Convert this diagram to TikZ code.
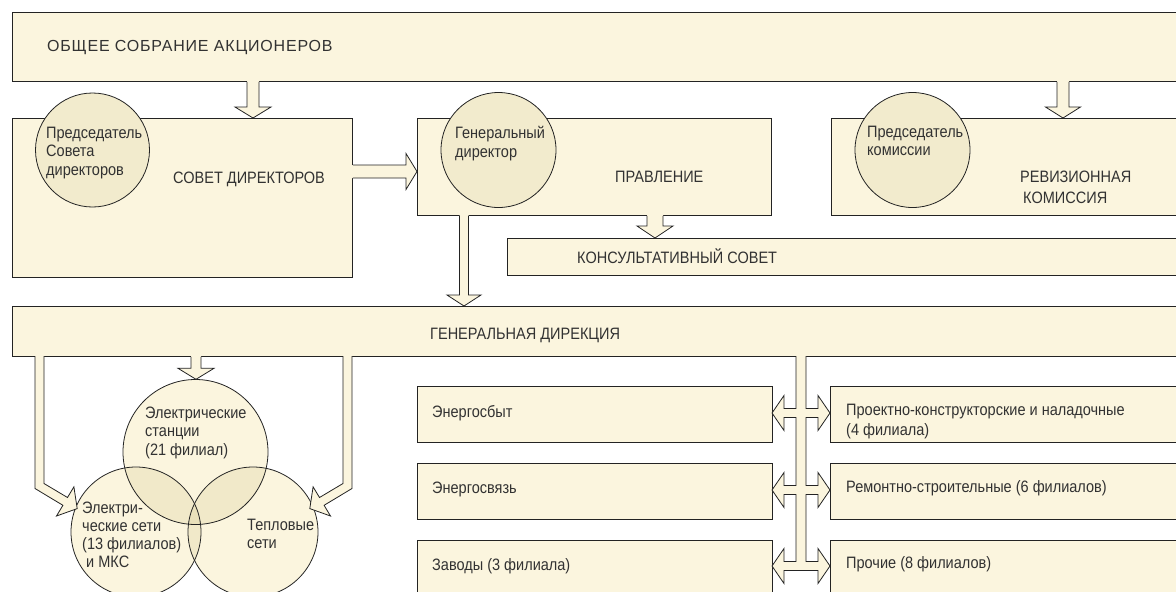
\documentclass[tikz,border=0pt]{standalone}
\usepackage{fontspec}
\setmainfont{Liberation Sans}[FakeStretch=0.88]
\newfontfamily\titlefont{Liberation Sans}[LetterSpace=5]
\usetikzlibrary{calc}
\definecolor{boxfill}{RGB}{251,245,222}
\definecolor{circfill}{RGB}{242,235,205}
\definecolor{lensfill}{RGB}{241,233,201}
\definecolor{triplefill}{RGB}{233,224,186}
\definecolor{linec}{RGB}{35,35,35}
\definecolor{textc}{RGB}{50,50,50}
\tikzset{
 box/.style={draw=linec, fill=boxfill, line width=0.8pt, rectangle, inner sep=0pt, anchor=north west},
 officer/.style={circle, draw=linec, fill=circfill, line width=0.8pt, inner sep=0pt, minimum size=#1},
 vennfill/.style={circle, fill=boxfill, inner sep=0pt, minimum size=#1},
 vennline/.style={draw=linec, line width=0.8pt},
 txt/.style={inner sep=0pt, text=textc, anchor=base west, align=left},
 afill/.style={fill=boxfill},
 aline/.style={draw=linec, line width=0.8pt, line join=miter},
}
% block arrow downwards: #1 x, #2 from node, #3 to node, #4 shaft hw, #5 head hw, #6 head length
\newcommand\blockdown[6]{%
 \fill[afill] let \p1=(#2.south), \p2=(#3.north) in
   ({#1pt-#4pt},{\y1+1.5pt}) -- ({#1pt-#4pt},{\y2+#6pt}) -- ({#1pt-#5pt},{\y2+#6pt}) -- (#1pt,\y2)
   -- ({#1pt+#5pt},{\y2+#6pt}) -- ({#1pt+#4pt},{\y2+#6pt}) -- ({#1pt+#4pt},{\y1+1.5pt}) -- cycle;
 \draw[aline] let \p1=(#2.south), \p2=(#3.north) in
   ({#1pt-#4pt},\y1) -- ({#1pt-#4pt},{\y2+#6pt}) -- ({#1pt-#5pt},{\y2+#6pt}) -- (#1pt,\y2)
   -- ({#1pt+#5pt},{\y2+#6pt}) -- ({#1pt+#4pt},{\y2+#6pt}) -- ({#1pt+#4pt},\y1);
}
% block arrow to the right: #1 y (pixels, downward), #2 from, #3 to, #4 shaft hw, #5 head hw, #6 head length
\newcommand\blockright[6]{%
 \fill[afill] let \p1=(#2.east), \p2=(#3.west) in
   ({\x1-1.5pt},{-#1pt+#4pt}) -- ({\x2-#6pt},{-#1pt+#4pt}) -- ({\x2-#6pt},{-#1pt+#5pt}) -- (\x2,-#1pt)
   -- ({\x2-#6pt},{-#1pt-#5pt}) -- ({\x2-#6pt},{-#1pt-#4pt}) -- ({\x1-1.5pt},{-#1pt-#4pt}) -- cycle;
 \draw[aline] let \p1=(#2.east), \p2=(#3.west) in
   (\x1,{-#1pt+#4pt}) -- ({\x2-#6pt},{-#1pt+#4pt}) -- ({\x2-#6pt},{-#1pt+#5pt}) -- (\x2,-#1pt)
   -- ({\x2-#6pt},{-#1pt-#5pt}) -- ({\x2-#6pt},{-#1pt-#4pt}) -- (\x1,{-#1pt-#4pt});
}
\begin{document}
\begin{tikzpicture}[x=1pt,y=-1pt,font=\fontsize{16.5}{19}\selectfont]
\useasboundingbox (0,0) rectangle (1176,592);
\clip (0,0) rectangle (1176,592);

% boxes
\node[box, minimum width=1178pt, minimum height=69pt] (top) at (12,12) {};
\node[box, minimum width=340pt, minimum height=159pt] (sovet) at (12,118) {};
\node[box, minimum width=354pt, minimum height=97pt] (prav) at (417,118) {};
\node[box, minimum width=359pt, minimum height=97pt] (rev) at (831,118) {};
\node[box, minimum width=683pt, minimum height=37pt] (kons) at (507,238) {};
\node[box, minimum width=1178pt, minimum height=50pt] (gendir) at (12,306) {};
\node[box, minimum width=355pt, minimum height=56pt] (esb) at (417,386) {};
\node[box, minimum width=355pt, minimum height=56pt] (esv) at (417,463) {};
\node[box, minimum width=355pt, minimum height=60pt] (zav) at (417,540) {};
\node[box, minimum width=360pt, minimum height=56pt] (proj) at (830,386) {};
\node[box, minimum width=360pt, minimum height=56pt] (rem) at (830,463) {};
\node[box, minimum width=360pt, minimum height=60pt] (proch) at (830,540) {};

% officer circles
\node[officer=114pt] (ch1) at (92.5,150) {};
\node[officer=115pt] (ch2) at (498.5,150) {};
\node[officer=115pt] (ch3) at (912.5,150) {};

% venn circles
\node[vennfill=145pt] (vs) at (195.5,452) {};
\node[vennfill=130pt] (vl) at (136,532) {};
\node[vennfill=130pt] (vr) at (253,532) {};
\begin{scope}
 \clip (vs.center) circle[radius=72.5pt];
 \fill[lensfill] (vl.center) circle[radius=65pt] (vr.center) circle[radius=65pt];
\end{scope}
\begin{scope}
 \clip (vl.center) circle[radius=65pt];
 \fill[lensfill] (vr.center) circle[radius=65pt];
 \clip (vr.center) circle[radius=65pt];
 \fill[triplefill] (vs.center) circle[radius=72.5pt];
\end{scope}
\draw[vennline] (vs.center) circle[radius=72.5pt];
\draw[vennline] (vl.center) circle[radius=65pt];
\draw[vennline] (vr.center) circle[radius=65pt];

% block arrows
\blockdown{253}{top}{sovet}{6}{18}{11}
\blockdown{1063}{top}{rev}{6}{17.5}{11}
\blockdown{655}{prav}{kons}{8}{18}{12}
\blockdown{464}{prav}{gendir}{4.5}{17}{11}
\blockdown{196}{gendir}{vs}{5}{18}{11}
\blockright{171.5}{sovet}{prav}{6.5}{18}{11}

% bent arrows from Генеральная дирекция
\fill[afill] (35,354.5) -- (35,488.5) -- (62.9,505.3) -- (56.5,516) -- (77.2,508.6) -- (73.9,486.8) -- (67.5,497.5) -- (44,483.5) -- (44,354.5) -- cycle;
\draw[aline] (35,356) -- (35,488.5) -- (62.9,505.3) -- (56.5,516) -- (77.2,508.6) -- (73.9,486.8) -- (67.5,497.5) -- (44,483.5) -- (44,356);
\fill[afill] (352,354.5) -- (352,488.5) -- (324.1,505.3) -- (330.5,516) -- (309.8,508.6) -- (313.1,486.8) -- (319.5,497.5) -- (343,483.5) -- (343,354.5) -- cycle;
\draw[aline] (352,356) -- (352,488.5) -- (324.1,505.3) -- (330.5,516) -- (309.8,508.6) -- (313.1,486.8) -- (319.5,497.5) -- (343,483.5) -- (343,356);

% bus with double arrows
\fill[afill] (796,354.5) -- (796,408.5) -- (784,408.5) -- (784,395.5) -- (772,413) -- (784,430.5) -- (784,417.5) -- (796,417.5) -- (796,485.5) -- (784,485.5) -- (784,472.5) -- (772,490) -- (784,507.5) -- (784,494.5) -- (796,494.5) -- (796,561.5) -- (784,561.5) -- (784,548.5) -- (772,566) -- (784,583.5) -- (784,570.5) -- (818,570.5) -- (818,583.5) -- (830,566) -- (818,548.5) -- (818,561.5) -- (806,561.5) -- (806,494.5) -- (818,494.5) -- (818,507.5) -- (830,490) -- (818,472.5) -- (818,485.5) -- (806,485.5) -- (806,417.5) -- (818,417.5) -- (818,430.5) -- (830,413) -- (818,395.5) -- (818,408.5) -- (806,408.5) -- (806,354.5) -- cycle;
\draw[aline] (796,356) -- (796,408.5) -- (784,408.5) -- (784,395.5) -- (772,413) -- (784,430.5) -- (784,417.5) -- (796,417.5) -- (796,485.5) -- (784,485.5) -- (784,472.5) -- (772,490) -- (784,507.5) -- (784,494.5) -- (796,494.5) -- (796,561.5) -- (784,561.5) -- (784,548.5) -- (772,566) -- (784,583.5) -- (784,570.5) -- (818,570.5) -- (818,583.5) -- (830,566) -- (818,548.5) -- (818,561.5) -- (806,561.5) -- (806,494.5) -- (818,494.5) -- (818,507.5) -- (830,490) -- (818,472.5) -- (818,485.5) -- (806,485.5) -- (806,417.5) -- (818,417.5) -- (818,430.5) -- (830,413) -- (818,395.5) -- (818,408.5) -- (806,408.5) -- (806,356);

% texts (multi-line nodes: anchor at the baseline of the last line)
\node[txt, font=\titlefont\fontsize{16}{19}\selectfont] (ttop) at (47,51) {ОБЩЕЕ СОБРАНИЕ АКЦИОНЕРОВ};
\node[txt] (tsovet) at (173,183) {СОВЕТ ДИРЕКТОРОВ};
\node[txt, font=\fontsize{16.5}{18.5}\selectfont] (tch1) at (46,175) {Председатель\\Совета\\директоров};
\node[txt] (tch2) at (455,157) {Генеральный\\директор};
\node[txt] (tprav) at (615,182) {ПРАВЛЕНИЕ};
\node[txt, font=\fontsize{16.5}{18}\selectfont] (tch3) at (867,155) {Председатель\\комиссии};
\node[txt, font=\fontsize{16.5}{21}\selectfont] (trev) at (1020,203) {РЕВИЗИОННАЯ\\\hspace*{3pt}КОМИССИЯ};
\node[txt] (tkons) at (577,263) {КОНСУЛЬТАТИВНЫЙ СОВЕТ};
\node[txt] (tgen) at (430,339) {ГЕНЕРАЛЬНАЯ ДИРЕКЦИЯ};
\node[txt, font=\fontsize{16.5}{18.5}\selectfont] (tvs) at (145,455) {Электрические\\станции\\(21 филиал)};
\node[txt, font=\fontsize{16.5}{18}\selectfont] (tvl) at (82,567) {Электри-\\ческие сети\\(13 филиалов)\\\hspace*{4pt}и МКС};
\node[txt, font=\fontsize{16.5}{17.5}\selectfont] (tvr) at (247,548) {Тепловые\\сети};
\node[txt] (tesb) at (432,417) {Энергосбыт};
\node[txt] (tesv) at (432,493) {Энергосвязь};
\node[txt] (tzav) at (432,570) {Заводы (3 филиала)};
\node[txt, font=\fontsize{16.5}{19.5}\selectfont] (tproj) at (846,435) {Проектно-конструкторские и наладочные\\(4 филиала)};
\node[txt] (trem) at (846,492) {Ремонтно-строительные (6 филиалов)};
\node[txt] (tproch) at (846,568) {Прочие (8 филиалов)};
\end{tikzpicture}
\end{document}
